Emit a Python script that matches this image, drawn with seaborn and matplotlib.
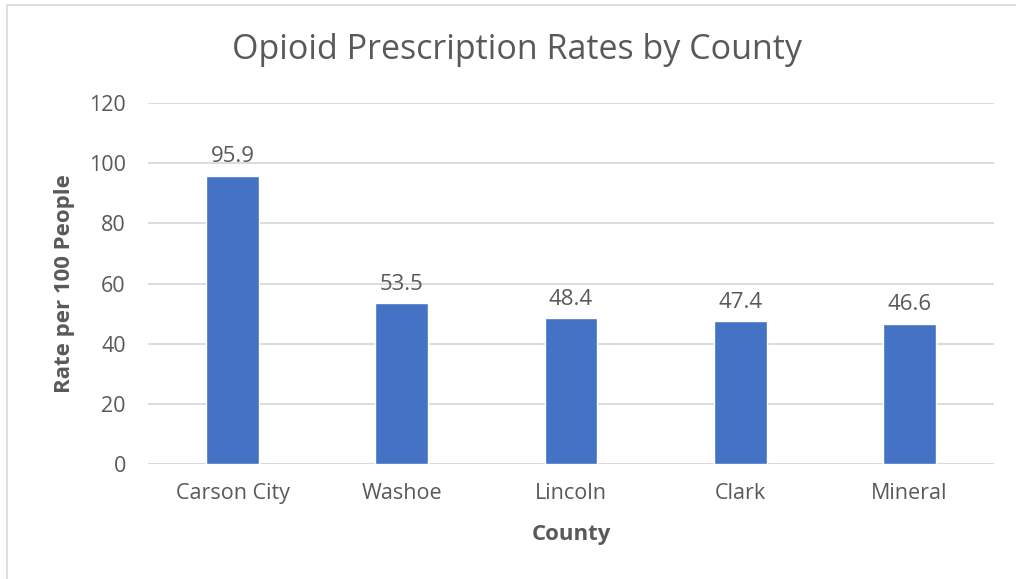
import matplotlib
matplotlib.use("Agg")
import matplotlib.pyplot as plt
import matplotlib.patches as mpatches
import seaborn as sns
import pandas as pd

counties = ["Carson City", "Washoe", "Lincoln", "Clark", "Mineral"]
rates = [95.9, 53.5, 48.4, 47.4, 46.6]
y_ticks = [0, 20, 40, 60, 80, 100, 120]

sns.set_theme(style="white")
plt.rcParams["font.family"] = ["Open Sans", "DejaVu Sans"]

text_gray = "#595959"
grid_gray = "#D9D9D9"
bar_blue = "#4472C4"

df = pd.DataFrame({"County": counties, "Rate": rates})

fig = plt.figure(figsize=(10.16, 5.79), dpi=100)
ax = fig.add_axes([148 / 1016, 1 - 464 / 579, 846 / 1016, 361 / 579])

sns.barplot(data=df, x="County", y="Rate", color=bar_blue, width=0.313,
            saturation=1, ax=ax, zorder=3)

ax.set_ylim(0, 120)
ax.set_xlim(-0.5, len(counties) - 0.5)
ax.set_yticks(y_ticks)
ax.set_yticklabels([str(t) for t in y_ticks])
ax.yaxis.grid(True, color=grid_gray, linewidth=1.3, zorder=0)
ax.xaxis.grid(False)
for s in ax.spines.values():
    s.set_visible(False)
ax.axhline(0, color=grid_gray, linewidth=1.3, zorder=1)
ax.tick_params(axis="both", length=0, labelsize=15.5, colors=text_gray)
ax.tick_params(axis="y", pad=16)
ax.tick_params(axis="x", pad=14)

for bar, val in zip(ax.patches, rates):
    ax.annotate(f"{val:.1f}", (bar.get_x() + bar.get_width() / 2, val),
                xytext=(0, 6), textcoords="offset points",
                ha="center", va="bottom", fontsize=16, color=text_gray)

ax.set_xlabel("County", fontsize=16, fontweight="bold", color=text_gray, labelpad=14)
ax.set_ylabel("Rate per 100 People", fontsize=16, fontweight="bold", color=text_gray, labelpad=10)

fig.text(517 / 1016, 1 - 50 / 579, "Opioid Prescription Rates by County",
         ha="center", va="center", fontsize=24.5, color=text_gray)

# chart frame
fig.patches.append(mpatches.Rectangle((7 / 1016, -0.1), 1.2, 1 - 5 / 579 + 0.1,
                                      transform=fig.transFigure, fill=False,
                                      edgecolor="#D9D9D9", linewidth=1.2))

fig.savefig("out.png", dpi=100, facecolor="white")
